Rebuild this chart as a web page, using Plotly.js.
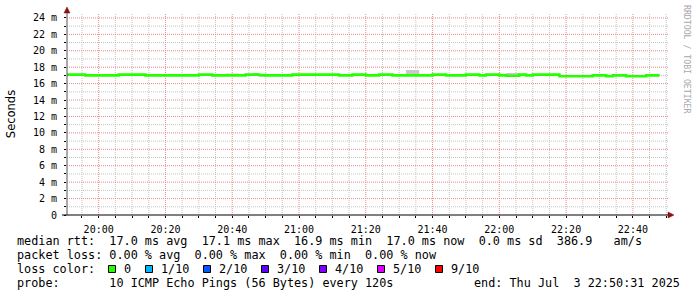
<!DOCTYPE html>
<html>
<head>
<meta charset="utf-8">
<script src="https://cdn.plot.ly/plotly-3.0.1.min.js"></script>
<style>
  html, body { margin: 0; padding: 0; background: #ffffff; }
  #chart { width: 697px; height: 297px; }
</style>
</head>
<body>
<div id="chart"></div>
<script>
// ---------------- data ----------------
const startTime = "2025-07-03T19:50:00";   // first RRD step boundary
const stepSeconds = 120;
const rangeStart = "2025-07-03 19:50:31";
const rangeEnd = "2025-07-03 22:50:31";

// median RTT per 120 s step (ms)
const medianRtt = [
  17.1, 17.1, 17.1, 17.0, 17.0, 17.0, 17.0, 17.0, 17.1, 17.1,
  17.1, 17.1, 17.0, 17.0, 17.0, 17.0, 17.0, 17.0, 17.0, 17.0,
  17.1, 17.1, 17.0, 17.0, 17.0, 17.0, 17.0, 17.1, 17.1, 17.05,
  17.0, 17.0, 17.0, 17.0, 17.1, 17.1, 17.1, 17.1, 17.1, 17.1,
  17.1, 17.0, 17.0, 17.1, 17.1, 17.0, 17.0, 17.1, 17.1, 17.0,
  17.0, 17.0, 17.0, 17.0, 17.0, 17.1, 17.1, 17.0, 17.0, 17.0,
  17.1, 17.1, 17.0, 17.1, 17.1, 17.0, 16.95, 16.95, 17.1, 17.0,
  17.1, 17.1, 17.1, 17.1, 16.9, 16.9, 16.9, 16.9, 16.9, 17.0,
  17.0, 16.9, 17.0, 17.0, 16.9, 16.9, 16.9, 17.0, 17.0
];
// smoke: lowest ping per step (ms)
const smokeMin = [
  17.05, 17.05, 17.05, 16.95, 16.95, 16.95, 16.95, 16.95, 17.05, 17.05,
  17.05, 17.05, 16.95, 16.95, 16.95, 16.95, 16.95, 16.95, 16.95, 16.95,
  17.05, 17.05, 16.95, 16.95, 16.95, 16.95, 16.95, 17.05, 17.05, 16.8,
  16.95, 16.95, 16.95, 16.95, 17.05, 17.05, 17.05, 17.05, 17.05, 17.05,
  17.05, 16.95, 16.95, 17.05, 17.05, 16.95, 16.95, 17.05, 17.05, 16.95,
  16.95, 16.95, 16.95, 16.95, 16.95, 17.05, 17.05, 16.95, 16.95, 16.95,
  17.05, 17.05, 16.95, 17.05, 17.05, 16.95, 16.9, 16.9, 17.05, 16.95,
  17.05, 17.05, 17.05, 17.05, 16.85, 16.85, 16.85, 16.85, 16.85, 16.95,
  16.95, 16.85, 16.95, 16.95, 16.85, 16.85, 16.85, 16.95, 16.95
];
// smoke: highest ping per step (ms)
const smokeMax = [
  17.15, 17.15, 17.15, 17.05, 17.16, 17.05, 17.05, 17.16, 17.15, 17.15,
  17.15, 17.15, 17.16, 17.05, 17.05, 17.05, 17.05, 17.05, 17.05, 17.05,
  17.15, 17.15, 17.05, 17.05, 17.24, 17.24, 17.05, 17.15, 17.3, 17.1,
  17.05, 17.05, 17.05, 17.05, 17.15, 17.15, 17.15, 17.15, 17.15, 17.15,
  17.15, 17.05, 17.16, 17.15, 17.15, 17.05, 17.05, 17.15, 17.15, 17.05,
  17.16, 17.65, 17.65, 17.16, 17.05, 17.15, 17.15, 17.16, 17.05, 17.05,
  17.15, 17.15, 17.05, 17.15, 17.15, 17.2, 17.3, 17.3, 17.15, 17.16,
  17.15, 17.15, 17.15, 17.15, 16.95, 16.95, 16.95, 17.06, 17.06, 17.13,
  17.13, 16.95, 17.05, 17.05, 17.02, 17.02, 17.02, 17.05, 17.05
];

// y axis labelled ticks (ms) and their labels
const yTickVals = [0, 2, 4, 6, 8, 10, 12, 14, 16, 18, 20, 22, 24];
const yTickText = ["0", "2 m", "4 m", "6 m", "8 m", "10 m", "12 m", "14 m", "16 m", "18 m", "20 m", "22 m", "24 m"];
// x axis labelled times
const xMajorTimes = ["2025-07-03 20:00", "2025-07-03 20:20", "2025-07-03 20:40", "2025-07-03 21:00",
  "2025-07-03 21:20", "2025-07-03 21:40", "2025-07-03 22:00", "2025-07-03 22:20", "2025-07-03 22:40"];
const xTickText = ["20:00", "20:20", "20:40", "21:00", "21:20", "21:40", "22:00", "22:20", "22:40"];

// legend texts
const lineMedian = "median rtt:  17.0 ms avg  17.1 ms max  16.9 ms min  17.0 ms now  0.0 ms sd  386.9   am/s";
const linePacket = "packet loss: 0.00 % avg  0.00 % max  0.00 % min  0.00 % now";
const lossLabel = "loss color:";
const lossNames = ["0", "1/10", "2/10", "3/10", "4/10", "5/10", "9/10"];
const lossColors = ["#26ff00", "#00b8ff", "#0059ff", "#5e00ff", "#7e00ff", "#dd00ff", "#ff0000"];
const lineProbe = "probe:       10 ICMP Echo Pings (56 Bytes) every 120s";
const lineEnd = "end: Thu Jul  3 22:50:31 2025";
const yTitle = "Seconds";
const watermark = "RRDTOOL / TOBI OETIKER";

// ---------------- build ----------------
function pad(n) { return (n < 10 ? "0" : "") + n; }
function fmt(d) {
  return d.getFullYear() + "-" + pad(d.getMonth() + 1) + "-" + pad(d.getDate()) + " " +
         pad(d.getHours()) + ":" + pad(d.getMinutes()) + ":" + pad(d.getSeconds());
}
const t0 = new Date(startTime);
const times = [];
for (let i = 0; i <= medianRtt.length; i++) {
  times.push(fmt(new Date(t0.getTime() + i * stepSeconds * 1000)));
}
function withTail(a) { return a.concat([a[a.length - 1]]); }
const nb = s => s.replace(/ /g, "\u00a0");

// grid positions: x every 5 minutes, y every 1 ms; majors carry a label
const xGridVals = [], xGridText = [], xMinor = [];
{
  const a = new Date("2025-07-03T19:55:00").getTime();
  const b = new Date("2025-07-03T22:50:00").getTime();
  for (let t = a; t <= b; t += 300000) {
    const s = fmt(new Date(t));
    const k = xMajorTimes.findIndex(m => new Date(m.replace(" ", "T")).getTime() === t);
    xGridVals.push(s);
    xGridText.push(k >= 0 ? xTickText[k] : "");
    if (k < 0) xMinor.push(s);
  }
}
const yGridVals = [], yGridText = [], yMinor = [];
for (let v = 0; v <= 24; v++) {
  const k = yTickVals.indexOf(v);
  yGridVals.push(v);
  yGridText.push(k >= 0 ? yTickText[k] : "");
  if (k < 0) yMinor.push(v);
}

// pixel -> paper helpers (plot area 67..668 x, 13..215 y)
const PL = 67, PR = 668, PT = 13, PB = 215;
const px = v => (v - PL) / (PR - PL);
const py = v => (PB - v) / (PB - PT);

const traces = [
  { x: times, y: withTail(smokeMin), type: "scatter", mode: "lines",
    line: { width: 0, shape: "hv" }, hoverinfo: "skip", showlegend: false },
  { x: times, y: withTail(smokeMax), type: "scatter", mode: "lines",
    line: { width: 0, shape: "hv" }, fill: "tonexty", fillcolor: "#c8c8c8",
    hoverinfo: "skip", showlegend: false },
  { x: times, y: withTail(medianRtt), type: "scatter", mode: "lines",
    line: { width: 2.6, shape: "hv", color: "#26ff00" }, showlegend: false }
];

const mono = "DejaVu Sans Mono, Liberation Mono, monospace";
const legendFont = { family: mono, size: 11.8, color: "#000000" };

const annotations = [
  { text: nb(lineMedian), x: px(16), y: py(241) },
  { text: nb(linePacket), x: px(16), y: py(255) },
  { text: nb(lossLabel), x: px(16), y: py(269) },
  { text: nb(lineProbe), x: px(16), y: py(283) },
  { text: nb(lineEnd), x: px(681), y: py(283), xanchor: "right" }
].map(a => Object.assign({ xref: "paper", yref: "paper", showarrow: false,
  xanchor: "left", yanchor: "middle", font: legendFont, borderpad: 0 }, a));

const majorGrid = "#e88a8a";
const minorGrid = "#c4c4c4";
const dash = "1px,1px";

const shapes = [];
function vGrid(t, color) {
  shapes.push({ type: "line", layer: "between", xref: "x", yref: "paper",
    x0: t, x1: t, y0: 0, y1: 1, line: { color: color, width: 1, dash: dash } });
}
function hGrid(v, color) {
  shapes.push({ type: "line", layer: "between", xref: "paper", yref: "y",
    x0: 0, x1: 1, y0: v, y1: v, line: { color: color, width: 1, dash: dash } });
}
xMinor.forEach(t => vGrid(t, minorGrid));
yMinor.forEach(v => hGrid(v, minorGrid));
xMajorTimes.forEach(t => vGrid(t, majorGrid));
yTickVals.filter(v => v > 0).forEach(v => hGrid(v, majorGrid));

const squareLeft = [108, 145, 203, 261, 319, 377, 435];
lossNames.forEach((name, i) => {
  const x0 = squareLeft[i];
  shapes.push({ type: "rect", xref: "paper", yref: "paper",
    x0: px(x0 + 0.5), x1: px(x0 + 7.5), y0: py(272.5), y1: py(265.5),
    fillcolor: lossColors[i], line: { color: "#000000", width: 1 } });
  annotations.push({ text: nb(name), xref: "paper", yref: "paper", showarrow: false,
    x: px(x0 + 14.5), y: py(269), xanchor: "left", yanchor: "middle",
    font: legendFont, borderpad: 0 });
});

// watermark
annotations.push({ text: nb(watermark), xref: "paper", yref: "paper", showarrow: false,
  x: px(687), y: py(59), xanchor: "center", yanchor: "middle", textangle: 90,
  font: { family: mono, size: 8.2, color: "#a8a8a8" }, borderpad: 0 });

// axis lines and arrows
const arrowColor = "#8b1010";
shapes.push({ type: "line", xref: "paper", yref: "paper",
  x0: px(67), x1: px(67), y0: py(215), y1: py(11), line: { color: "#555555", width: 1 } });
shapes.push({ type: "line", xref: "paper", yref: "paper",
  x0: px(62), x1: px(670), y0: py(215), y1: py(215), line: { color: "#000000", width: 1 } });
shapes.push({ type: "path", xref: "paper", yref: "paper",
  path: "M " + px(64) + " " + py(13) + " L " + px(70) + " " + py(13) + " L " + px(67) + " " + py(7) + " Z",
  fillcolor: arrowColor, line: { color: arrowColor, width: 0.5 } });
shapes.push({ type: "path", xref: "paper", yref: "paper",
  path: "M " + px(668) + " " + py(212) + " L " + px(668) + " " + py(218) + " L " + px(674) + " " + py(215) + " Z",
  fillcolor: arrowColor, line: { color: arrowColor, width: 0.5 } });

const layout = {
  width: 697, height: 297,
  margin: { l: PL, r: 697 - PR, t: PT, b: 297 - PB, pad: 0 },
  paper_bgcolor: "#ffffff", plot_bgcolor: "#ffffff",
  showlegend: false,
  xaxis: {
    type: "date", range: [rangeStart, rangeEnd],
    tickmode: "array", tickvals: xGridVals, ticktext: xGridText,
    showgrid: false,
    zeroline: false, showline: false,
    ticks: "outside", ticklen: 2, tickcolor: "#000000",
    ticklabelstandoff: 3,
    tickfont: { family: mono, size: 10, color: "#000000" },
    fixedrange: true
  },
  yaxis: {
    range: [0, 24.6],
    tickmode: "array", tickvals: yGridVals, ticktext: yGridText,
    showgrid: false,
    zeroline: false, showline: false,
    ticks: "outside", ticklen: 2, tickcolor: "#000000",
    ticklabelstandoff: 5,
    tickfont: { family: mono, size: 10, color: "#000000" },
    title: { text: yTitle, font: { family: "DejaVu Sans, sans-serif", size: 11.5, color: "#000000" }, standoff: 14 },
    automargin: false,
    fixedrange: true
  },
  annotations: annotations,
  shapes: shapes
};

Plotly.newPlot("chart", traces, layout, { displayModeBar: false, staticPlot: true });
</script>
</body>
</html>
